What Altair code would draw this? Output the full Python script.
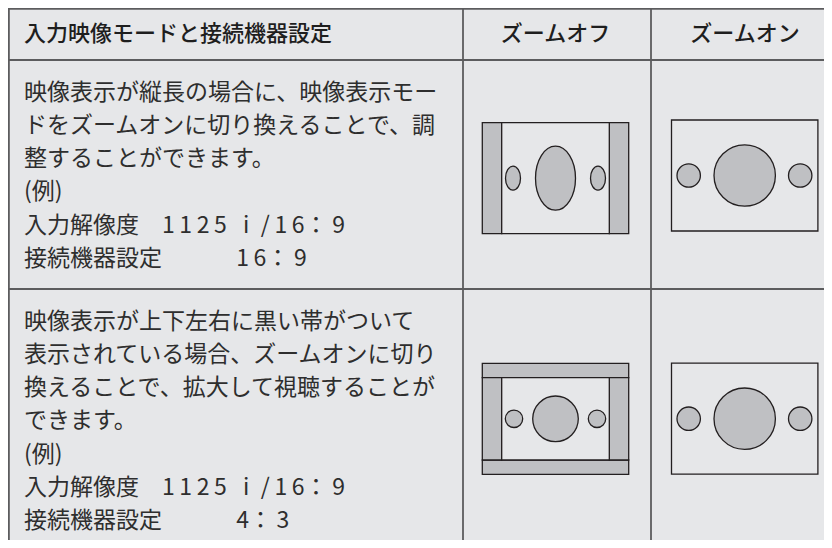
import altair as alt
import pandas as pd

# ---------------- content ----------------
header_texts = ["入力映像モードと接続機器設定", "ズームオフ", "ズームオン"]
row1_lines = [
    "映像表示が縦長の場合に、映像表示モー",
    "ドをズームオンに切り換えることで、調",
    "整することができます。",
    "(例)",
    "入力解像度　1\u20091\u20092\u20095\u2002\u2009i\u2002/\u20091\u20096：\u20099",
    "接続機器設定　　　 1\u20096：\u20099",
]
row2_lines = [
    "映像表示が上下左右に黒い帯がついて",
    "表示されている場合、ズームオンに切り",
    "換えることで、拡大して視聴することが",
    "できます。",
    "(例)",
    "入力解像度　1\u20091\u20092\u20095\u2002\u2009i\u2002/\u20091\u20096：\u20099",
    "接続機器設定　　　 4：\u20093",
]

# ---------------- layout ----------------
col_edges = [8.9, 463, 651, 839]
row_edges = [8.9, 60, 289, 560]
W, H = 816, 532
BG = "#e6e7e9"
GRID = "#5c5c5e"
INK = "#231f20"
FILL = "#bfc0c3"
text_x = 24
first_offset = 32.5
line_gap = 33.3

# table rules
rules = []
for y in row_edges[:3]:
    rules.append(dict(x=8, x2=840, y=y, y2=y))
for x in col_edges[:3]:
    rules.append(dict(x=x, x2=x, y=row_edges[0], y2=560))
rules = pd.DataFrame(rules)

# texts
body = []
for i, t in enumerate(row1_lines):
    body.append(dict(x=text_x, y=row_edges[1] + first_offset + i * line_gap, text=t))
for i, t in enumerate(row2_lines):
    body.append(dict(x=text_x, y=row_edges[2] + first_offset + i * line_gap, text=t))
body = pd.DataFrame(body)

head_y = 33.5
head_left = pd.DataFrame([dict(x=text_x, y=head_y, text=header_texts[0])])
head_center = pd.DataFrame([
    dict(x=(col_edges[1] + col_edges[2]) / 2 - 1.5, y=head_y, text=header_texts[1]),
    dict(x=(col_edges[2] + col_edges[3]) / 2, y=head_y, text=header_texts[2]),
])

# icons (centre of each picture)
off1 = (555.5, 178.2)
on1 = (744.7, 175.5)
off2 = (555.5, 418.8)
on2 = (744.7, 418.7)
fw, fh = 73.2, 55.5      # frame half sizes
bar = 19.4               # side bar width
band = 14.3              # top/bottom band height

rects = []
def rect(x1, x2, y1, y2, fill):
    rects.append(dict(x=x1, x2=x2, y=y1, y2=y2, fill=fill))

# row 1 zoom off : side bars
cx, cy = off1
rect(cx - fw, cx - fw + bar, cy - fh, cy + fh, FILL)
rect(cx + fw - bar, cx + fw, cy - fh, cy + fh, FILL)
rect(cx - fw + bar, cx + fw - bar, cy - fh, cy + fh, BG)
# row 1 zoom on
cx, cy = on1
rect(cx - fw, cx + fw, cy - fh, cy + fh, BG)
# row 2 zoom off : bands all round
cx, cy = off2
rect(cx - fw, cx + fw, cy - fh, cy - fh + band, FILL)
rect(cx - fw, cx + fw, cy + fh - band, cy + fh, FILL)
rect(cx - fw, cx - fw + bar, cy - fh + band, cy + fh - band, FILL)
rect(cx + fw - bar, cx + fw, cy - fh + band, cy + fh - band, FILL)
rect(cx - fw + bar, cx + fw - bar, cy - fh + band, cy + fh - band, BG)
# row 2 zoom on
cx, cy = on2
rect(cx - fw, cx + fw, cy - fh, cy + fh, BG)
rects = pd.DataFrame(rects)

ELLIPSE = "M -0.625,0 A 0.625,1 0 1,0 0.625,0 A 0.625,1 0 1,0 -0.625,0 Z"
syms = []
def sym(x, y, r, shape="circle"):
    syms.append(dict(x=x, y=y, size=(2 * r) ** 2, shape=shape))

cx, cy = off1
sym(cx, cy, 32, ELLIPSE)
sym(cx - 42.5, cy, 12, ELLIPSE)
sym(cx + 42.5, cy, 12, ELLIPSE)
for (cx, cy) in (on1, on2):
    sym(cx, cy, 30.7)
    sym(cx - 56, cy, 11.7)
    sym(cx + 55.5, cy, 11.7)
cx, cy = off2
sym(cx, cy, 22.8)
sym(cx - 41.5, cy, 8.7)
sym(cx + 41.5, cy, 8.7)
syms = pd.DataFrame(syms)

xs = alt.Scale(domain=[8, 8 + W], range=[0, W], nice=False, zero=False)
ys = alt.Scale(domain=[8, 8 + H], range=[0, H], nice=False, zero=False)
X = lambda f="x": alt.X(f"{f}:Q", scale=xs, axis=None)
Y = lambda f="y": alt.Y(f"{f}:Q", scale=ys, axis=None)

rule_layer = alt.Chart(rules).mark_rule(color=GRID, strokeWidth=1.8).encode(
    x=X(), x2="x2:Q", y=Y(), y2="y2:Q"
)
rect_layer = alt.Chart(rects).mark_rect(stroke=INK, strokeWidth=1.3).encode(
    x=X(), x2="x2:Q", y=Y(), y2="y2:Q",
    fill=alt.Fill("fill:N", scale=None),
)
sym_layer = alt.Chart(syms).mark_point(
    filled=True, fill=FILL, stroke=INK, strokeWidth=1.3, opacity=1
).encode(
    x=X(), y=Y(),
    size=alt.Size("size:Q", scale=None),
    shape=alt.Shape("shape:N", scale=None),
)
FONT = "Noto Sans CJK JP"
body_layer = alt.Chart(body).mark_text(
    align="left", baseline="middle", font=FONT, fontSize=23, color="#2e2e2e"
).encode(x=X(), y=Y(), text="text:N")
head_l = alt.Chart(head_left).mark_text(
    align="left", baseline="middle", font=FONT, fontSize=22, fontWeight=500, color="#1e1e1e"
).encode(x=X(), y=Y(), text="text:N")
head_c = alt.Chart(head_center).mark_text(
    align="center", baseline="middle", font=FONT, fontSize=22, fontWeight=500, color="#1e1e1e"
).encode(x=X(), y=Y(), text="text:N")

chart = alt.layer(rect_layer, sym_layer, rule_layer, body_layer, head_l, head_c).properties(
    width=W, height=H, background=BG, padding=0,
    autosize=alt.AutoSizeParams(type="none"),
).configure_view(stroke=None)

chart.save("out.html", embed_options={"renderer": "svg", "actions": False})
